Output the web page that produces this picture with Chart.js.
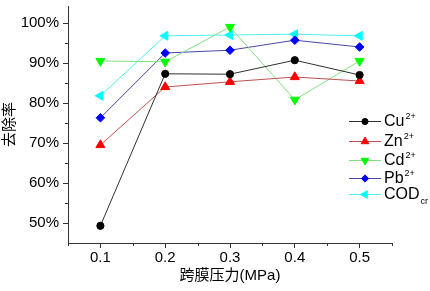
<!DOCTYPE html>
<html><head><meta charset="utf-8">
<script src="https://cdn.jsdelivr.net/npm/chart.js@4"></script>
<style>html,body{margin:0;padding:0;background:#fff}#wrap{width:430px;height:291px;position:relative}</style>
</head><body><div id="wrap"><canvas id="c"></canvas></div>
<script>
const pressures = [0.1, 0.2, 0.3, 0.4, 0.5];
const cu  = [49.3, 87.3, 87.2, 90.7, 87.0];
const zn  = [69.5, 84.0, 85.3, 86.5, 85.5];
const cd  = [90.5, 90.3, 99.0, 80.8, 90.5];
const pb  = [76.3, 92.5, 93.2, 95.7, 94.0];
const cod = [81.8, 96.8, 97.0, 97.2, 96.8];
const seriesNames = ['Cu', 'Zn', 'Cd', 'Pb', 'COD'];
const seriesSup = ['2+', '2+', '2+', '2+', ''];
const seriesSub = ['', '', '', '', 'cr'];
const xTicks = [0.1, 0.2, 0.3, 0.4, 0.5];
const yTicks = [50, 60, 70, 80, 90, 100];
const xTitle = '跨膜压力(MPa)';
const yTitle = '去除率';

const FONT = "Arial, 'Liberation Sans', 'Noto Sans CJK SC', sans-serif";
const styles = [
  {line:'#303030', fill:'#000000', ps:'circle', rot:0, r:3.6},
  {line:'#c05050', fill:'#ff0000', ps:'triangle', rot:0, r:5.2},
  {line:'#80e080', fill:'#00ff00', ps:'triangle', rot:180, r:5.2},
  {line:'#4848a8', fill:'#0000ff', ps:'rectRot', rot:0, r:4.3},
  {line:'#50f0f0', fill:'#00ffff', ps:'triangle', rot:270, r:5.2}
];
const series = [cu, zn, cd, pb, cod];

const datasets = series.map((vals, i) => ({
  label: seriesNames[i] + seriesSup[i] + seriesSub[i],
  data: vals.map((v, j) => ({x: pressures[j], y: v})),
  borderColor: styles[i].line,
  backgroundColor: styles[i].fill,
  pointBackgroundColor: styles[i].fill,
  pointBorderColor: styles[i].fill,
  pointBorderWidth: 1,
  borderWidth: 1,
  pointStyle: styles[i].ps,
  pointRotation: styles[i].rot,
  pointRadius: styles[i].r,
  tension: 0
}));

const extras = {
  id: 'extras',
  afterDraw(chart) {
    const ctx = chart.ctx;
    const xs = chart.scales.x, ys = chart.scales.y;
    const ca = chart.chartArea;
    ctx.save();
    ctx.strokeStyle = '#333';
    ctx.lineWidth = 1;
    ctx.beginPath();
    for (let k = 0; k <= 5; k++) {
      const v = 0.05 + k * 0.1;
      const px = Math.round(xs.getPixelForValue(v)) + 0.5;
      ctx.moveTo(px, ca.bottom); ctx.lineTo(px, ca.bottom + 3);
    }
    for (let v = 55; v <= 95; v += 10) {
      const py = Math.round(ys.getPixelForValue(v)) + 0.5;
      ctx.moveTo(ca.left, py); ctx.lineTo(ca.left - 3, py);
    }
    ctx.stroke();
    // legend
    const legY = [121, 141, 160, 178, 194];
    chart.data.datasets.forEach((ds, i) => {
      const y = legY[i];
      ctx.strokeStyle = ds.borderColor;
      ctx.lineWidth = 1;
      ctx.beginPath();
      ctx.moveTo(349, y + 0.5); ctx.lineTo(381, y + 0.5);
      ctx.stroke();
      ctx.fillStyle = ds.pointBackgroundColor;
      ctx.strokeStyle = ds.pointBorderColor;
      Chart.helpers.drawPoint(ctx, {pointStyle: ds.pointStyle, rotation: ds.pointRotation, radius: ds.pointRadius * 0.85, borderWidth: 1}, 365, y + 0.5);
      ctx.fillStyle = '#000';
      ctx.textBaseline = 'middle';
      ctx.textAlign = 'left';
      ctx.font = '16px ' + FONT;
      ctx.fillText(seriesNames[i], 384, y + 1);
      const w = ctx.measureText(seriesNames[i]).width;
      ctx.font = '9px ' + FONT;
      if (seriesSup[i]) ctx.fillText(seriesSup[i], 384 + w + 1, y - 4);
      if (seriesSub[i]) ctx.fillText(seriesSub[i], 384 + w + 1, y + 8);
    });
    ctx.restore();
  }
};

new Chart(document.getElementById('c'), {
  type: 'line',
  data: {datasets},
  options: {
    responsive: true,
    maintainAspectRatio: false,
    animation: false,
    layout: {padding: {top: 2, right: 38, left: 0, bottom: 0}},
    plugins: {legend: {display: false}, tooltip: {enabled: false}},
    scales: {
      x: {
        type: 'linear', min: 0.05, max: 0.55,
        afterBuildTicks: s => { s.ticks = xTicks.map(v => ({value: v})); },
        afterFit: s => { s.height = 48; s.paddingLeft = 0; s.paddingRight = 0; },
        border: {display: true, color: '#333', width: 1},
        grid: {drawOnChartArea: false, drawTicks: true, tickLength: 5, color: '#333'},
        ticks: {color: '#000', font: {family: FONT, size: 15}, padding: 1, maxRotation: 0,
                callback: v => v.toFixed(1)},
        title: {display: true, text: xTitle, color: '#000', font: {family: FONT, size: 15}, padding: 6}
      },
      y: {
        type: 'linear', min: 45, max: 104.2,
        afterBuildTicks: s => { s.ticks = yTicks.map(v => ({value: v})); },
        afterFit: s => { s.width = 68; s.paddingTop = 0; s.paddingBottom = 0; },
        border: {display: true, color: '#333', width: 1},
        grid: {drawOnChartArea: false, drawTicks: true, tickLength: 5, color: '#333'},
        ticks: {color: '#000', font: {family: FONT, size: 15}, padding: 4,
                callback: v => v + '%'},
        title: {display: true, text: yTitle, color: '#000', font: {family: FONT, size: 15}, padding: {top: 1, bottom: 0}}
      }
    }
  },
  plugins: [extras]
});
</script>
</body></html>
